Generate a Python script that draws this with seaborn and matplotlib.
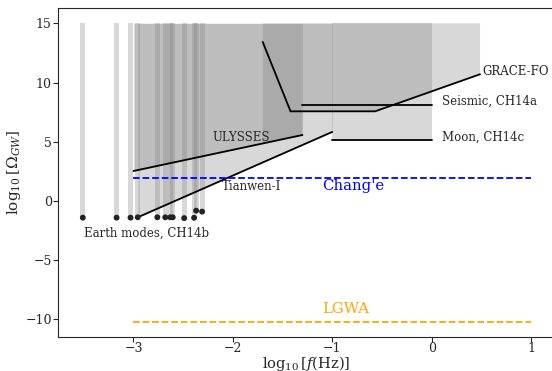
import numpy as np
import matplotlib
matplotlib.use("Agg")
import matplotlib.pyplot as plt
import seaborn as sns

# Earth normal modes (CH14b)
earth_logf = [-3.51, -3.17, -3.03, -2.957, -2.76, -2.68, -2.63, -2.605, -2.49, -2.39, -2.37, -2.31]
earth_logomega = [-1.41, -1.41, -1.41, -1.38, -1.38, -1.38, -1.38, -1.38, -1.45, -1.42, -0.82, -0.90]

# ULYSSES
ulysses_logf = [-3.0, -1.30]
ulysses_logomega = [2.53, 5.57]

# Tianwen-I
tianwen_logf = [-2.957, -1.0]
tianwen_logomega = [-1.38, 5.83]

# GRACE-FO
grace_logf = [-1.70, -1.42, -0.568, 0.487]
grace_logomega = [13.43, 7.57, 7.57, 10.7]

# lunar / seismic
seismic_logf = [-1.30, 0.0]
seismic_logomega = [8.1, 8.1]
moon_logf = [-1.0, 0.0]
moon_logomega = [5.15, 5.15]

# future detectors
change_logf = [-3.0, 1.0]
change_logomega = [1.94, 1.94]
lgwa_logf = [-3.0, 1.0]
lgwa_logomega = [-10.2, -10.2]

ytop = 15

sns.set_style("ticks")
plt.rcParams["font.family"] = ["DejaVu Serif"]
plt.rcParams["mathtext.fontset"] = "dejavuserif"

fig = plt.figure(figsize=(5.52, 3.71), dpi=100)
ax = fig.add_axes([0.105, 0.0916, 0.902, 0.887])

shade = dict(color="grey", alpha=0.3, lw=0)

# shaded exclusion regions
for x, y in zip(earth_logf, earth_logomega):
    ax.fill_between([x - 0.025, x + 0.025], [y, y], ytop, **shade)
ax.fill_between(ulysses_logf, ulysses_logomega, ytop, **shade)
ax.fill_between(tianwen_logf, tianwen_logomega, ytop, **shade)
ax.fill_between(moon_logf, moon_logomega, ytop, **shade)
u_at_start = np.interp(grace_logf[0], ulysses_logf, ulysses_logomega)
gx = [grace_logf[0], seismic_logf[0], seismic_logf[0]] + grace_logf[2:] + [grace_logf[-1], grace_logf[0]]
gy = [u_at_start, ulysses_logomega[-1], grace_logomega[1]] + grace_logomega[2:] + [ytop, ytop]
ax.fill(gx, gy, **shade)

lw = 1.3
sns.lineplot(x=ulysses_logf, y=ulysses_logomega, color="black", lw=lw, ax=ax, sort=False)
sns.lineplot(x=tianwen_logf, y=tianwen_logomega, color="black", lw=lw, ax=ax, sort=False)
sns.lineplot(x=grace_logf, y=grace_logomega, color="black", lw=lw, ax=ax, sort=False)
sns.lineplot(x=seismic_logf, y=seismic_logomega, color="black", lw=lw, ax=ax, sort=False)
sns.lineplot(x=moon_logf, y=moon_logomega, color="black", lw=lw, ax=ax, sort=False)
sns.scatterplot(x=earth_logf, y=earth_logomega, color="#222222", s=18, edgecolor="none", ax=ax, zorder=5)

ax.plot(change_logf, change_logomega, color="blue", ls="--", lw=1.3)
ax.plot(lgwa_logf, lgwa_logomega, color="orange", ls="--", lw=1.3)

fs = 8.5
ax.text(0.508, 10.9, "GRACE-FO", fontsize=fs, va="center")
ax.text(0.106, 8.45, "Seismic, CH14a", fontsize=fs, va="center")
ax.text(0.106, 5.4, "Moon, CH14c", fontsize=fs, va="center")
ax.text(-2.21, 5.4, "ULYSSES", fontsize=fs, va="center")
ax.text(-2.11, 1.18, "Tianwen-I", fontsize=fs, va="center")
ax.text(-3.50, -2.7, "Earth modes, CH14b", fontsize=fs, va="center")
ax.text(-1.10, 1.27, "Chang'e", fontsize=10.7, color="blue", va="center")
ax.text(-1.10, -9.1, "LGWA", fontsize=10.7, color="orange", va="center")

ax.set_xlim(-3.76, 1.25)
ax.set_ylim(-11.49, 16.3)
ax.set_xticks([-3, -2, -1, 0, 1])
ax.set_yticks([-10, -5, 0, 5, 10, 15])
ax.tick_params(labelsize=9, length=3.5, pad=1)
ax.tick_params(axis="x", pad=0.3)
ax.set_xlabel(r"$\log_{10}[f(\mathrm{Hz})]$", fontsize=10.5, va="center")
ax.set_ylabel(r"$\log_{10}[\Omega_{GW}]$", fontsize=11, va="center")
ax.xaxis.set_label_coords(0.498, -0.079)
ax.yaxis.set_label_coords(-0.088, 0.5)

fig.savefig("out.png", dpi=100)
